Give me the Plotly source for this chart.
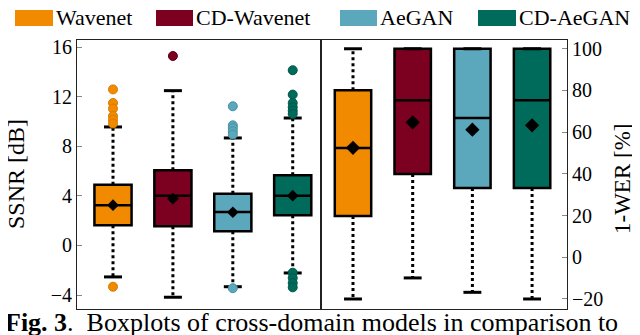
import plotly.graph_objects as go

# ---------------- data ----------------
models = ["Wavenet", "CD-Wavenet", "AeGAN", "CD-AeGAN"]
colors = ["#F28A00", "#7C0020", "#5BA7BC", "#006B5A"]
edge_colors = ["#D97A00", "#5E0018", "#4A91A5", "#00574A"]

ssnr_q1 = [1.63, 1.55, 1.15, 2.44]
ssnr_med = [3.25, 4.02, 2.70, 4.02]
ssnr_q3 = [4.91, 6.07, 4.18, 5.67]
ssnr_mean = [3.25, 3.78, 2.68, 4.02]
ssnr_lo = [-2.54, -4.18, -3.33, -2.22]
ssnr_hi = [9.57, 12.5, 8.68, 10.29]
ssnr_outliers = [
    [12.6, 11.5, 11.05, 10.45, 10.15, 9.85, -3.33],
    [15.3],
    [11.24, 9.7, 9.49, 9.22, 8.95, -3.45],
    [14.15, 12.18, 11.5, 11.16, 10.88, 10.62, -2.2, -2.62, -3.03, -3.38],
]

wer_q1 = [19.75, 39.9, 33.2, 33.2]
wer_med = [52.4, 75.3, 66.8, 75.3]
wer_q3 = [80.06, 100, 100, 100]
wer_mean = [52.5, 64.7, 61.2, 63.3]
wer_lo = [-20, -9.9, -16.8, -20]
wer_hi = [100, 100, 100, 100]

ssnr_ticks = [-4, 0, 4, 8, 12, 16]
wer_ticks = [-20, 0, 20, 40, 60, 80, 100]

caption = "<b>Fig. 3</b>.  Boxplots of cross-domain models in comparison to"

# ---------------- layout helpers ----------------
W, H = 640, 335
L, R, T, B = 69, 559, 32, 301
PW, PH = R - L, B - T


def px(p):
    return (p - L) / PW


def py(p):
    return (B - p) / PH


split = px(313)
FONT = "Liberation Serif, Times New Roman, DejaVu Serif, serif"

fig = go.Figure()


def add_panel(xa, ya, q1, med, q3, mean, lo, hi, outliers, width, msize):
    positions = list(range(len(models)))
    for i, m in enumerate(models):
        x = positions[i]
        # whiskers (dotted)
        fig.add_trace(go.Scatter(
            x=[x, x, None, x, x], y=[q3[i], hi[i], None, q1[i], lo[i]],
            mode="lines", line=dict(color="black", width=3, dash="3px,3px"),
            xaxis=xa, yaxis=ya, showlegend=False, hoverinfo="skip"))
        # caps
        fig.add_trace(go.Scatter(
            x=[x - 0.15, x + 0.15, None, x - 0.15, x + 0.15],
            y=[hi[i], hi[i], None, lo[i], lo[i]],
            mode="lines", line=dict(color="black", width=3),
            xaxis=xa, yaxis=ya, showlegend=False, hoverinfo="skip"))
        # box
        fig.add_trace(go.Box(
            x=[x], q1=[q1[i]], median=[med[i]], q3=[q3[i]],
            lowerfence=[q1[i]], upperfence=[q3[i]],
            width=width, fillcolor=colors[i],
            line=dict(color="black", width=2.5), whiskerwidth=0,
            boxpoints=False, xaxis=xa, yaxis=ya, showlegend=False,
            name=m))
        # outliers
        if outliers is not None and outliers[i]:
            fig.add_trace(go.Scatter(
                x=[x] * len(outliers[i]), y=outliers[i], mode="markers",
                marker=dict(size=9, color=colors[i],
                            line=dict(color=edge_colors[i], width=1)),
                xaxis=xa, yaxis=ya, showlegend=False))
        # mean
        fig.add_trace(go.Scatter(
            x=[x], y=[mean[i]], mode="markers",
            marker=dict(symbol="diamond", size=msize, color="black"),
            xaxis=xa, yaxis=ya, showlegend=False))


add_panel("x", "y", ssnr_q1, ssnr_med, ssnr_q3, ssnr_mean, ssnr_lo, ssnr_hi,
          ssnr_outliers, 0.62, 9)
add_panel("x2", "y2", wer_q1, wer_med, wer_q3, wer_mean, wer_lo, wer_hi,
          None, 0.61, 11)

axis_line = dict(showline=True, linecolor="#222222", linewidth=1, mirror=True,
                 showgrid=False, zeroline=False)

fig.update_layout(
    width=W, height=H,
    margin=dict(l=L, r=W - R, t=T, b=H - B),
    paper_bgcolor="white", plot_bgcolor="white",
    showlegend=False,
    font=dict(family=FONT, color="black", size=20),
    xaxis=dict(domain=[0, split], range=[-0.601, 3.472], showticklabels=False,
               ticks="", **axis_line),
    xaxis2=dict(domain=[split, 1], range=[-0.536, 3.585], showticklabels=False,
                ticks="", anchor="y2", **axis_line),
    yaxis=dict(range=[-5.13, 16.59], tickvals=ssnr_ticks, ticks="inside",
               ticklen=5, tickcolor="#888888", anchor="x",
               tickfont=dict(family=FONT, size=20), **axis_line),
    yaxis2=dict(range=[-24.8, 104.2], tickvals=wer_ticks, ticks="inside",
                ticklen=5, tickcolor="#888888", anchor="x2", side="right",
                tickfont=dict(family=FONT, size=20), **axis_line),
)

annotations = [
    dict(text="SSNR [dB]", x=px(8), y=py(166), xref="paper", yref="paper",
         textangle=-90, showarrow=False, font=dict(family=FONT, size=24),
         xanchor="center", yanchor="middle"),
    dict(text="1-WER [%]", x=px(614), y=py(171), xref="paper", yref="paper",
         textangle=-90, showarrow=False, font=dict(family=FONT, size=23),
         xanchor="center", yanchor="middle"),
    dict(text=caption, x=px(-5), y=py(298), xref="paper", yref="paper",
         showarrow=False, font=dict(family=FONT, size=26),
         xanchor="left", yanchor="top"),
]

# legend (manual swatches + labels)
legend_sw = [(7, 45), (148, 185), (332, 369), (470, 508)]
shapes = []
for (x0, x1), m, c in zip(legend_sw, models, colors):
    shapes.append(dict(type="rect", xref="paper", yref="paper",
                       x0=px(x0), x1=px(x1), y0=py(18), y1=py(2),
                       fillcolor=c, line=dict(width=0)))
    annotations.append(dict(text=m, x=px(x1 + 1), y=py(10), xref="paper",
                            yref="paper", showarrow=False, xanchor="left",
                            yanchor="middle",
                            font=dict(family=FONT, size=22)))

fig.update_layout(annotations=annotations, shapes=shapes)

fig.write_html("out.html")
